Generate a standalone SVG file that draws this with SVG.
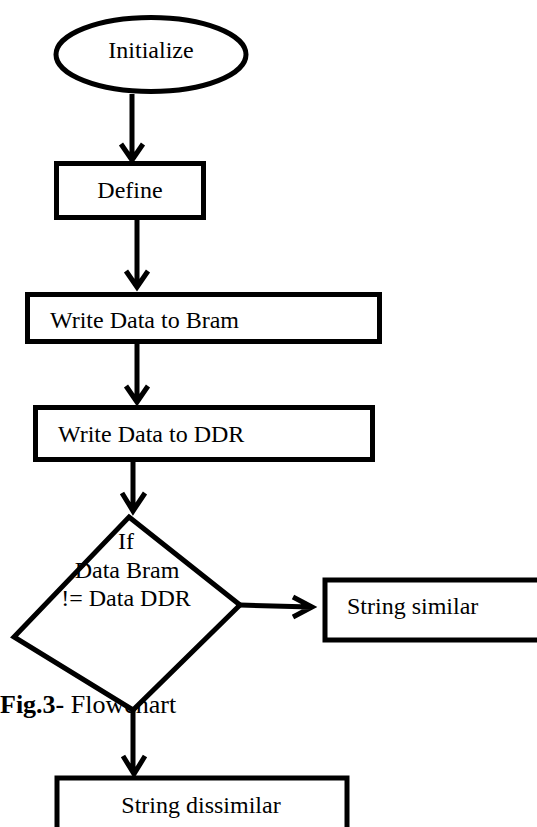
<svg xmlns="http://www.w3.org/2000/svg" width="537" height="827" viewBox="0 0 537 827">
  <style>
    .shape { fill: #fff; stroke: #000; stroke-width: 5; }
    .wire { fill: none; stroke: #000; stroke-width: 5; stroke-linejoin: miter; }
    .lbl { font-family: "Liberation Serif", "Times New Roman", serif; font-size: 24px; fill: #000; }
    .mid { text-anchor: middle; }
    .cap { font-family: "Liberation Serif", "Times New Roman", serif; font-size: 26px; fill: #000; }
  </style>
  <rect width="537" height="827" fill="#fff"/>

  <!-- caption sits beneath the decision shape -->
  <text class="cap" x="0" y="713"><tspan font-weight="bold">Fig.3-</tspan> Flowchart</text>

  <g id="connectors">
    <path class="wire" d="M132 94 V159 M121 144 L132 160 L143 144"/>
    <path class="wire" d="M137 220 V286 M126 271 L137 287 L148 271"/>
    <path class="wire" d="M137 344 V401 M126 386 L137 402 L148 386"/>
    <path class="wire" d="M133 462 V511 M122 493 L133 511 L145 493"/>
    <path class="wire" d="M240 605 L311 607 M293 597 L312 607 L293 617"/>
    <path class="wire" d="M133 710 V773 M123 756 L134 774 L145 756"/>
  </g>

  <g id="initialize">
    <ellipse class="shape" cx="151" cy="54.5" rx="95" ry="37"/>
    <text class="lbl mid" x="151" y="58">Initialize</text>
  </g>

  <g id="define">
    <rect class="shape" x="56.5" y="163.5" width="147" height="54"/>
    <text class="lbl mid" x="130" y="198">Define</text>
  </g>

  <g id="write-bram">
    <rect class="shape" x="27.5" y="294.5" width="352" height="47"/>
    <text class="lbl" x="50" y="328">Write Data to Bram</text>
  </g>

  <g id="write-ddr">
    <rect class="shape" x="35.5" y="407.5" width="337" height="52"/>
    <text class="lbl" x="58" y="442">Write Data to DDR</text>
  </g>

  <g id="compare">
    <polygon class="shape" points="129,517 240,605 133,710 14,637"/>
    <text class="lbl mid" x="126" y="549">If</text>
    <text class="lbl mid" x="127" y="578">Data Bram</text>
    <text class="lbl mid" x="126" y="606">!= Data DDR</text>
  </g>

  <g id="similar">
    <rect class="shape" x="325" y="580" width="220" height="60"/>
    <text class="lbl" x="347" y="614">String similar</text>
  </g>

  <g id="dissimilar">
    <rect class="shape" x="57" y="778" width="290" height="60"/>
    <text class="lbl mid" x="201" y="813">String dissimilar</text>
  </g>
</svg>
